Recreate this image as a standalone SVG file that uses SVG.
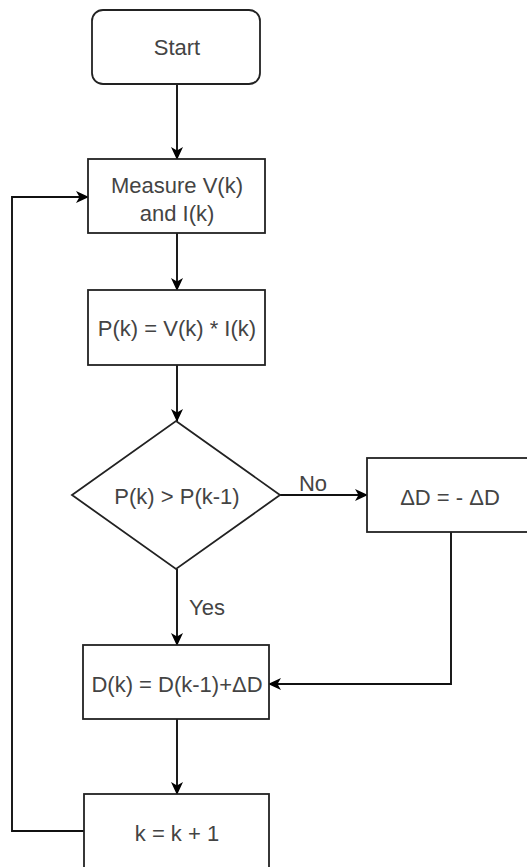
<svg xmlns="http://www.w3.org/2000/svg" width="527" height="867" viewBox="0 0 527 867">
<style>
.box{fill:#fff;stroke:#222;stroke-width:1.8}
.lbl{font-family:"Liberation Sans",Arial,sans-serif;font-size:22px;fill:#444;text-anchor:middle}
.edge{fill:none;stroke:#111;stroke-width:1.9}
</style>
<defs>
<marker id="arr" viewBox="0 0 13 12" refX="12" refY="6" markerWidth="13" markerHeight="12" markerUnits="userSpaceOnUse" orient="auto">
<path d="M0,0 L13,6 L0,12 L3.5,6 Z" fill="#000"/>
</marker>
</defs>
<rect width="527" height="867" fill="#fff"/>
<g id="connectors">
<line class="edge" x1="177" y1="84" x2="177" y2="159" marker-end="url(#arr)"/>
<line class="edge" x1="177" y1="233" x2="177" y2="290" marker-end="url(#arr)"/>
<line class="edge" x1="177" y1="365" x2="177" y2="421" marker-end="url(#arr)"/>
<line class="edge" x1="280" y1="495" x2="367" y2="495" marker-end="url(#arr)"/>
<text class="lbl" x="313" y="491">No</text>
<line class="edge" x1="177" y1="569" x2="177" y2="645" marker-end="url(#arr)"/>
<text class="lbl" x="207" y="615">Yes</text>
<polyline class="edge" points="451,532 451,684 269,684" marker-end="url(#arr)"/>
<line class="edge" x1="177" y1="719" x2="177" y2="794" marker-end="url(#arr)"/>
<polyline class="edge" points="84,831 12,831 12,197 88,197" marker-end="url(#arr)"/>
</g>
<g id="start">
<rect class="box" x="92" y="10" width="168" height="74" rx="11"/>
<text class="lbl" x="177" y="55">Start</text>
</g>
<g id="measure">
<rect class="box" x="88" y="159" width="177" height="74"/>
<text class="lbl" x="177" y="193">Measure V(k)</text>
<text class="lbl" x="177" y="221">and I(k)</text>
</g>
<g id="power">
<rect class="box" x="88" y="290" width="177" height="75"/>
<text class="lbl" x="177" y="336">P(k) = V(k) * I(k)</text>
</g>
<g id="decision">
<polygon class="box" points="176,421 280,495 176,569 72,495"/>
<text class="lbl" x="177" y="504">P(k) &gt; P(k-1)</text>
</g>
<g id="negate">
<rect class="box" x="367" y="458" width="166" height="74"/>
<text class="lbl" x="450" y="505">ΔD = - ΔD</text>
</g>
<g id="duty">
<rect class="box" x="83" y="645" width="186" height="74"/>
<text class="lbl" x="177" y="692">D(k) = D(k-1)+ΔD</text>
</g>
<g id="increment">
<rect class="box" x="84" y="794" width="185" height="90"/>
<text class="lbl" x="177" y="841">k = k + 1</text>
</g>
</svg>
